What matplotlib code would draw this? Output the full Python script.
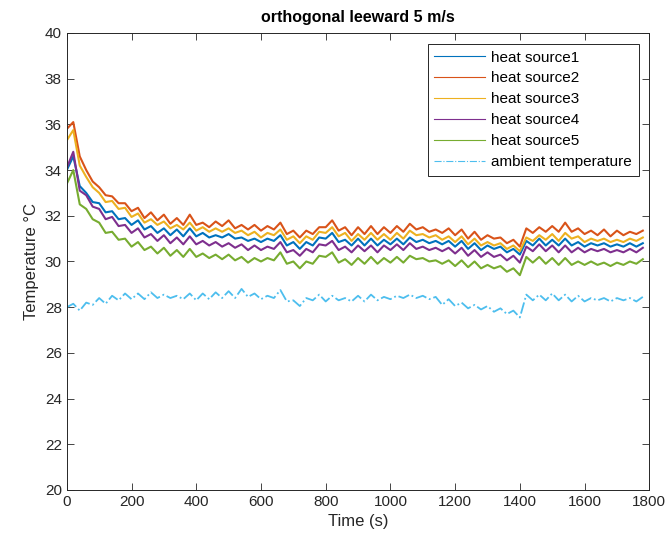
import matplotlib
matplotlib.use("Agg")
import matplotlib.pyplot as plt

plt.rcParams['font.family'] = ['Liberation Sans', 'DejaVu Sans']

# time samples (s)
t = list(range(0, 1781, 20))

hs1 = [34.0, 34.6, 33.3, 33.0, 32.6, 32.55, 32.15, 32.2, 31.85, 31.9,
       31.6, 31.8, 31.4, 31.55, 31.25, 31.45, 31.15, 31.4, 31.1, 31.45,
       31.1, 31.25, 31.05, 31.15, 31.05, 31.2, 31.0, 31.05, 30.9, 31.0,
       30.85, 31.0, 30.9, 31.15, 30.7, 30.85, 30.55, 30.85, 30.7, 31.05,
       31.0, 31.25, 30.85, 30.95, 30.7, 31.0, 30.7, 31.0, 30.7, 30.95,
       30.75, 31.0, 30.75, 31.05, 30.85, 30.95, 30.8, 30.9, 30.75, 30.9,
       30.65, 30.9, 30.55, 30.8, 30.5, 30.7, 30.55, 30.65, 30.4, 30.55,
       30.3, 30.9, 30.7, 31.0, 30.7, 30.95, 30.7, 31.0, 30.7, 30.85,
       30.65, 30.8, 30.7, 30.8, 30.65, 30.75, 30.65, 30.8, 30.65, 30.8]

hs2 = [35.8, 36.1, 34.6, 34.0, 33.5, 33.25, 32.9, 32.85, 32.55, 32.55,
       32.2, 32.35, 31.9, 32.15, 31.8, 32.05, 31.65, 31.9, 31.6, 32.05,
       31.6, 31.7, 31.5, 31.75, 31.55, 31.8, 31.45, 31.6, 31.4, 31.6,
       31.35, 31.55, 31.4, 31.7, 31.2, 31.35, 31.05, 31.35, 31.2, 31.5,
       31.5, 31.8, 31.35, 31.5, 31.15, 31.5, 31.2, 31.55, 31.2, 31.5,
       31.25, 31.55, 31.3, 31.65, 31.4, 31.5, 31.3, 31.4, 31.25, 31.45,
       31.15, 31.4, 31.0, 31.3, 30.95, 31.15, 31.0, 31.05, 30.8, 30.95,
       30.65, 31.45, 31.25, 31.5, 31.3, 31.55, 31.3, 31.7, 31.3, 31.45,
       31.2, 31.35, 31.15, 31.4, 31.1, 31.35, 31.15, 31.3, 31.2, 31.35]

hs3 = [35.3, 35.75, 34.2, 33.7, 33.25, 33.0, 32.6, 32.65, 32.3, 32.35,
       31.95, 32.1, 31.7, 31.85, 31.6, 31.75, 31.45, 31.6, 31.4, 31.7,
       31.35, 31.5, 31.3, 31.45, 31.3, 31.45, 31.25, 31.35, 31.15, 31.3,
       31.05, 31.25, 31.15, 31.4, 30.95, 31.1, 30.8, 31.1, 30.95, 31.3,
       31.25, 31.5, 31.1, 31.25, 30.9, 31.2, 30.95, 31.25, 30.95, 31.2,
       30.95, 31.25, 31.0, 31.35, 31.15, 31.2, 31.05, 31.15, 30.95, 31.1,
       30.85, 31.1, 30.75, 31.0, 30.7, 30.85, 30.7, 30.8, 30.55, 30.7,
       30.45, 31.05, 30.9, 31.15, 30.95, 31.2, 30.9, 31.25, 31.0, 31.1,
       30.85, 31.0, 30.9, 31.0, 30.85, 30.95, 30.85, 31.0, 30.9, 31.05]

hs4 = [34.1, 34.8, 33.1, 32.9, 32.4, 32.3, 31.85, 31.95, 31.55, 31.6,
       31.25, 31.45, 31.05, 31.2, 30.9, 31.15, 30.8, 31.05, 30.75, 31.1,
       30.75, 30.9, 30.7, 30.85, 30.65, 30.8, 30.6, 30.75, 30.5, 30.7,
       30.5, 30.65, 30.55, 30.85, 30.4, 30.5, 30.25, 30.55, 30.4, 30.75,
       30.7, 30.9, 30.5, 30.65, 30.4, 30.7, 30.45, 30.7, 30.4, 30.7,
       30.5, 30.75, 30.5, 30.8, 30.55, 30.65, 30.5, 30.6, 30.45, 30.6,
       30.35, 30.6, 30.25, 30.5, 30.2, 30.4, 30.2, 30.3, 30.05, 30.25,
       29.95, 30.65, 30.45, 30.75, 30.45, 30.7, 30.4, 30.7, 30.4, 30.6,
       30.4, 30.55, 30.45, 30.55, 30.4, 30.5, 30.4, 30.55, 30.4, 30.6]

hs5 = [33.4, 34.0, 32.5, 32.3, 31.85, 31.7, 31.25, 31.3, 30.95, 31.0,
       30.65, 30.85, 30.5, 30.65, 30.35, 30.6, 30.25, 30.5, 30.2, 30.55,
       30.2, 30.35, 30.15, 30.3, 30.1, 30.3, 30.05, 30.2, 29.95, 30.15,
       30.0, 30.15, 30.05, 30.4, 29.9, 30.0, 29.7, 30.0, 29.9, 30.25,
       30.2, 30.4, 29.95, 30.1, 29.85, 30.15, 29.9, 30.2, 29.9, 30.15,
       29.95, 30.2, 29.95, 30.25, 30.1, 30.15, 30.0, 30.05, 29.9, 30.05,
       29.8, 30.05, 29.75, 30.0, 29.7, 29.85, 29.7, 29.8, 29.55, 29.7,
       29.4, 30.2, 29.95, 30.2, 29.9, 30.15, 29.85, 30.15, 29.85, 30.0,
       29.85, 30.0, 29.85, 29.95, 29.8, 29.95, 29.85, 30.0, 29.9, 30.1]

ambient = [28.0, 28.15, 27.85, 28.2, 28.1, 28.4, 28.15, 28.5, 28.3, 28.6,
           28.35, 28.6, 28.35, 28.65, 28.4, 28.55, 28.4, 28.5, 28.35, 28.6,
           28.3, 28.6, 28.35, 28.65, 28.4, 28.7, 28.4, 28.8, 28.45, 28.6,
           28.35, 28.5, 28.4, 28.75, 28.25, 28.3, 28.05, 28.4, 28.3, 28.55,
           28.25, 28.5, 28.3, 28.4, 28.25, 28.5, 28.25, 28.55, 28.3, 28.45,
           28.35, 28.5, 28.4, 28.55, 28.4, 28.5, 28.35, 28.45, 28.1, 28.35,
           28.05, 28.2, 27.95, 28.1, 27.9, 28.05, 27.8, 27.95, 27.7, 27.85,
           27.55, 28.55, 28.3, 28.55, 28.3, 28.6, 28.3, 28.55, 28.25, 28.5,
           28.25, 28.4, 28.3, 28.4, 28.25, 28.4, 28.3, 28.4, 28.25, 28.45]

labels = ["heat source1", "heat source2", "heat source3",
          "heat source4", "heat source5", "ambient temperature"]
colors = ["#0072BD", "#D95319", "#EDB120", "#7E2F8E", "#77AC30", "#4DBEEE"]

fig = plt.figure(figsize=(6.68, 5.46), dpi=100)
ax = fig.add_axes([0.100, 0.1026, 0.872, 0.837])

for y, lab, c in zip([hs1, hs2, hs3, hs4, hs5], labels[:5], colors[:5]):
    ax.plot(t, y, color=c, linewidth=1.5, label=lab)
ax.plot(t, ambient, color=colors[5], linewidth=1.3, linestyle='-.', label=labels[5])

ax.set_xlim(0, 1800)
ax.set_ylim(20, 40)
ax.set_xticks(range(0, 1801, 200))
ax.set_yticks(range(20, 41, 2))
ax.tick_params(direction='in', top=True, right=True, labelsize=11,
               colors='#262626', length=5, width=0.6)
for s in ax.spines.values():
    s.set_color('#262626')
    s.set_linewidth(0.7)

ax.set_title("orthogonal leeward 5 m/s", fontsize=11.5, fontweight='bold', pad=8)
ax.set_xlabel("Time (s)", fontsize=12, color='#262626')
ax.set_ylabel("Temperature °C", fontsize=12, color='#262626')

leg = ax.legend(loc='upper right', fontsize=11, handlelength=3.3,
                fancybox=False, framealpha=1, edgecolor='#262626',
                borderaxespad=0.7, labelspacing=0.45, handletextpad=0.4,
                borderpad=0.45)
leg.get_frame().set_linewidth(0.7)
for h in leg.get_lines():
    h.set_linewidth(0.8)

fig.savefig("out.png", dpi=100)
